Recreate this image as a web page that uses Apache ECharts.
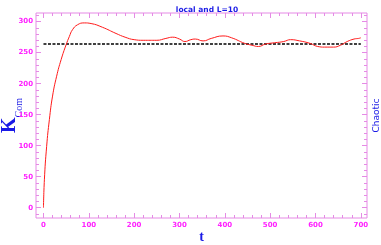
<!DOCTYPE html>
<html><head><meta charset="utf-8">
<script src="https://cdn.jsdelivr.net/npm/echarts@6/dist/echarts.min.js"></script>
<style>html,body{margin:0;padding:0;background:#fff}#c{width:381px;height:245px}</style>
</head><body><div id="c"></div>
<script>
const tValues = [0,2,7,13,20,29,39,50,57,64,75,90,105,130,160,180,200,220,250,270,285,300,312,325,335,352,370,396,415,444,460,474,490,510,530,545,565,588,605,620,640,655,670,685,695,700];
const kValues = [0,45,99,142,180,212,239,263,276,287,295,298,297,291,281,275,271,270,270,273,275,272,268,271,272,269,273,277,274,265,262,260,264,266,268,271,269,265,260,259,259,262,268,272,273,274];
const refT = [0,700];
const refK = [264,264];
const xMajor = [0,100,200,300,400,500,600,700];
const xMinor = [20,40,60,80,120,140,160,180,220,240,260,280,320,340,360,380,420,440,460,480,520,540,560,580,620,640,660,680];
const yMajor = [0,50,100,150,200,250,300];
const yMinor = [-10,10,20,30,40,60,70,80,90,110,120,130,140,160,170,180,190,210,220,230,240,260,270,280,290,310];
const titleText = 'local and L=10';

const XMIN=-16.5, XMAX=713.6, YMIN=-16.6, YMAX=314;
const pink='#e58ae5', mag='#ff22ff', blue='#1a1ae6';
const labelFont={color:mag,fontSize:7,fontFamily:'DejaVu Sans',fontWeight:'bold'};
function xa(pos, vals, len, labels, extra){
  return Object.assign({type:'value',position:pos,min:XMIN,max:XMAX,
    axisLine:{show:false,onZero:false},splitLine:{show:false},
    axisTick:{show:true,inside:true,length:len,lineStyle:{color:pink},customValues:vals},
    axisLabel:labels?Object.assign({show:true,margin:4,customValues:vals},labelFont):{show:false}},extra||{});
}
function ya(pos, vals, len, labels, extra){
  return Object.assign({type:'value',position:pos,min:YMIN,max:YMAX,
    axisLine:{show:false,onZero:false},splitLine:{show:false},
    axisTick:{show:true,inside:true,length:len,lineStyle:{color:pink},customValues:vals},
    axisLabel:labels?Object.assign({show:true,margin:3,customValues:vals},labelFont):{show:false}},extra||{});
}
const chart=echarts.init(document.getElementById('c'),null,{renderer:'canvas'});
chart.setOption({
  animation:false,
  title:{text:titleText,left:202,textAlign:'center',top:1,textStyle:{color:blue,fontSize:7.5,fontWeight:'bold',fontFamily:'DejaVu Sans'}},
  grid:{left:36,right:14,top:13,bottom:27,containLabel:false,outerBoundsMode:'none',show:true,borderColor:pink,borderWidth:1,backgroundColor:'transparent'},
  xAxis:[
    xa('bottom',xMajor,5,true,{name:'t',nameLocation:'middle',nameGap:12,nameMoveOverlap:false,nameTextStyle:{color:blue,fontSize:14,fontWeight:'bold',fontFamily:'Liberation Serif'}}),
    xa('bottom',xMinor,3,false),
    xa('top',xMajor,5,false),
    xa('top',xMinor,3,false)
  ],
  yAxis:[
    ya('left',yMajor,5,true,{name:'{k|K}{s|Com}',nameLocation:'middle',nameGap:16,nameMoveOverlap:false,
      nameTextStyle:{rich:{k:{color:blue,fontSize:20,fontWeight:'bold',fontFamily:'Liberation Serif',verticalAlign:'bottom',lineHeight:20},
        s:{color:blue,fontSize:10,fontFamily:'Liberation Serif',verticalAlign:'top',lineHeight:12,padding:[14,0,0,0]}}}}),
    ya('left',yMinor,3,false),
    ya('right',yMajor,5,false,{name:'Chaotic',nameLocation:'middle',nameGap:5,nameMoveOverlap:false,nameTextStyle:{color:blue,fontSize:9,fontFamily:'DejaVu Sans'}}),
    ya('right',yMinor,3,false)
  ],
  series:[
    {type:'line',xAxisIndex:0,yAxisIndex:0,data:refT.map((t,i)=>[t,refK[i]]),symbol:'none',
      lineStyle:{color:'#000',width:1.5,type:[3,1.5]},z:2},
    {type:'line',xAxisIndex:0,yAxisIndex:0,data:tValues.map((t,i)=>[t,kValues[i]]),symbol:'none',smooth:0.5,
      lineStyle:{color:'#ff1a1a',width:1},z:3}
  ]
});
</script></body></html>
